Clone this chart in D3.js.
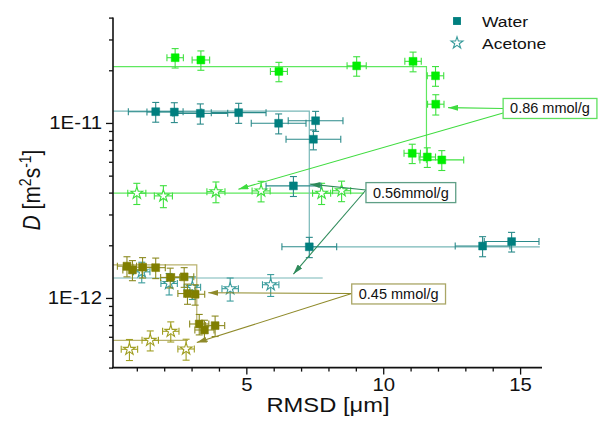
<!DOCTYPE html>
<html><head><meta charset="utf-8">
<script src="https://cdn.jsdelivr.net/npm/d3@7"></script>
<style>
body{margin:0;background:#fff}
svg{display:block}
text{font-family:"Liberation Sans",Arial,Helvetica,sans-serif;fill:#111}
</style>
</head><body>
<svg id="chart" width="598" height="430"></svg>
<script>
// ---------------- DATA ----------------
const xMajorTicks = [5, 10, 15];
const xMinorTicks = [1, 2, 3, 4, 6, 7, 8, 9, 11, 12, 13, 14];
const yMajorTicks = [1e-12, 1e-11];
const yMajorLabels = ["1E-12", "1E-11"];
const yMinorTicks = [4e-13,5e-13,6e-13,7e-13,8e-13,9e-13,2e-12,3e-12,4e-12,5e-12,6e-12,7e-12,8e-12,9e-12,2e-11,3e-11,4e-11];

const legendLabels = ["Water", "Acetone"];

// 0.86 mmol/g - water (squares)
const w86X    = [2.40, 3.34, 6.19, 9.03, 11.09, 11.91, 11.92, 11.06, 11.61, 12.14];
const w86D    = [2.36e-11, 2.29e-11, 1.97e-11, 2.12e-11, 2.25e-11, 1.86e-11, 1.28e-11, 6.71e-12, 6.39e-12, 6.15e-12];
const w86XErr = [0.30, 0.32, 0.31, 0.35, 0.30, 0.30, 0.30, 0.30, 0.30, 0.80];
const w86DErr = [3.0e-12, 2.9e-12, 2.5e-12, 2.7e-12, 2.9e-12, 2.4e-12, 1.7e-12, 8.5e-13, 8.2e-13, 8.0e-13];
// 0.86 mmol/g - acetone (stars)
const a86X    = [1.00, 1.97, 3.89, 5.54, 7.75, 8.48];
const a86D    = [3.97e-12, 3.83e-12, 4.05e-12, 4.09e-12, 3.97e-12, 4.10e-12];
const a86XErr = [0.33, 0.33, 0.33, 0.33, 0.33, 0.33];
const a86DErr = [5.5e-13, 5.5e-13, 5.5e-13, 5.5e-13, 5.5e-13, 5.5e-13];
// 0.86 step profiles
const fit86WX = [0.13, 11.58, 11.58];
const fit86WD = [2.10e-11, 2.10e-11, 5.9e-12];
const fit86AX = [0.13, 9.3];
const fit86AD = [3.97e-12, 3.97e-12];

// 0.56 mmol/g - water
const w56X    = [1.69, 2.37, 3.32, 4.72, 6.18, 7.53, 7.45, 6.72, 7.30, 13.63, 14.69];
const w56D    = [1.16e-11, 1.155e-11, 1.135e-11, 1.145e-11, 9.96e-12, 1.03e-11, 8.07e-12, 4.37e-12, 1.96e-12, 1.98e-12, 2.10e-12];
const w56XErr = [1.0, 1.0, 1.0, 1.0, 1.0, 1.0, 1.0, 1.0, 1.0, 1.0, 1.0];
const w56DErr = [1.5e-12, 1.5e-12, 1.5e-12, 1.5e-12, 1.3e-12, 1.35e-12, 1.05e-12, 5.7e-13, 2.6e-13, 2.6e-13, 2.7e-13];
// 0.56 mmol/g - acetone
const a56X    = [1.18, 2.18, 3.03, 4.41, 5.89];
const a56D    = [1.41e-12, 1.21e-12, 1.15e-12, 1.13e-12, 1.19e-12];
const a56XErr = [0.30, 0.30, 0.30, 0.30, 0.30];
const a56DErr = [1.9e-13, 1.7e-13, 1.7e-13, 1.7e-13, 1.7e-13];
const fit56WX = [0.13, 7.30, 7.30, 15.72];
const fit56WD = [1.17e-11, 1.17e-11, 1.96e-12, 1.96e-12];
const fit56AX = [0.13, 7.79];
const fit56AD = [1.30e-12, 1.30e-12];

// 0.45 mmol/g - water
const w45X    = [0.64, 0.84, 1.21, 1.69, 2.22, 2.73, 2.85, 3.13, 3.28, 3.47, 3.86];
const w45D    = [1.52e-12, 1.445e-12, 1.50e-12, 1.49e-12, 1.31e-12, 1.32e-12, 1.06e-12, 1.05e-12, 7.1e-13, 6.56e-13, 6.95e-13];
const w45XErr = [0.35, 0.35, 0.35, 0.35, 0.35, 0.35, 0.35, 0.35, 0.35, 0.35, 0.35];
const w45DErr = [2.0e-13, 1.9e-13, 2.0e-13, 2.0e-13, 1.7e-13, 1.7e-13, 1.4e-13, 1.4e-13, 9.5e-14, 9e-14, 9.3e-14];
// 0.45 mmol/g - acetone
const a45X    = [0.73, 1.49, 2.24, 2.80];
const a45D    = [5.09e-13, 5.73e-13, 6.45e-13, 5.11e-13];
const a45XErr = [0.30, 0.30, 0.30, 0.30];
const a45DErr = [7e-14, 7.5e-14, 8.5e-14, 7e-14];
const fit45WX = [0.13, 3.19, 3.19];
const fit45WD = [1.545e-12, 1.545e-12, 7.3e-13];
const fit45AX = [0.13, 2.87];
const fit45AD = [5.72e-13, 5.72e-13];

// annotations (label box: left edge x, vertical centre D)
const annLabels = ["0.86 mmol/g", "0.56mmol/g", "0.45 mmol/g"];
const annBoxX   = [14.38, 9.37, 8.85];
const annBoxD   = [1.21e-11, 4.0e-12, 1.054e-12];
const annFromX  = [[14.38, 14.38], [9.37, 9.37], [8.85, 8.85]];
const annFromD  = [[1.21e-11, 1.14e-11], [4.14e-12, 4.14e-12], [1.06e-12, 1.06e-12]];
const annToX    = [[12.37, 4.71], [7.33, 6.72], [3.61, 3.19]];
const annToD    = [[1.223e-11, 4.18e-12], [4.47e-12, 1.37e-12], [1.07e-12, 5.56e-13]];

// ---------------- STYLE ----------------
const SX = 1.13; // horizontal text stretch of the reference
const style = {
  g86: {fill:"#00ee00", bar:"#3fe23f", line:"#5fe85f", star:"#3ee03e", ann:"#2fd62f", box:"#5fe05f", arrow:"#3fdc3f"},
  g56: {fill:"#007f7f", bar:"#2a8a8a", line:"#78b8b8", star:"#3a9c9c", ann:"#1f7f7f", box:"#5f9f86", arrow:"#2e8a5a"},
  g45: {fill:"#807f00", bar:"#8c8a20", line:"#b9b26e", star:"#a09e22", ann:"#8a8620", box:"#aaa666", arrow:"#8f8a2a"}
};

// ---------------- SCALES ----------------
const svg = d3.select("#chart");
const x = d3.scaleLinear().domain([0.13, 15.8]).range([113, 542]);
const y = d3.scaleLog().domain([4e-13, 4e-11]).range([367.6, 17.6]);
const line = d3.line().x(d => x(d[0])).y(d => y(d[1]));

function stretch(sel){
  sel.each(function(){
    const t = d3.select(this);
    const tx = +(t.attr("x") || 0);
    t.attr("x", tx / SX).attr("transform", `scale(${SX},1)`);
  });
}

// ---------------- FIT / STEP LINES ----------------
const fits = [
  [fit86WX, fit86WD, "g86"], [fit86AX, fit86AD, "g86"],
  [fit56WX, fit56WD, "g56"], [fit56AX, fit56AD, "g56"],
  [fit45WX, fit45WD, "g45"], [fit45AX, fit45AD, "g45"]
];
fits.forEach(([xs, ds, k]) => {
  svg.append("path").attr("d", line(xs.map((v, i) => [v, ds[i]])))
    .attr("fill", "none").attr("stroke", style[k].line).attr("stroke-width", 1.2);
});

// ---------------- POINTS ----------------
function series(xs, ds, xe, de, k, kind){
  const data = xs.map((v, i) => ({x: v, d: ds[i], xe: xe[i], de: de[i]}));
  const g = svg.append("g");
  const c = style[k];
  const cap = 3.5;
  data.forEach(p => {
    const px = x(p.x), py = y(p.d);
    const x0 = x(p.x - p.xe), x1 = x(p.x + p.xe);
    const y0 = y(p.d + p.de), y1 = y(Math.max(p.d - p.de, 1e-14));
    const eb = g.append("g").attr("stroke", kind === "sq" ? c.bar : c.star).attr("stroke-width", 1.1).attr("fill", "none");
    eb.append("line").attr("x1", x0).attr("x2", x1).attr("y1", py).attr("y2", py);
    eb.append("line").attr("x1", x0).attr("x2", x0).attr("y1", py - cap).attr("y2", py + cap);
    eb.append("line").attr("x1", x1).attr("x2", x1).attr("y1", py - cap).attr("y2", py + cap);
    eb.append("line").attr("x1", px).attr("x2", px).attr("y1", y0).attr("y2", y1);
    eb.append("line").attr("x1", px - cap).attr("x2", px + cap).attr("y1", y0).attr("y2", y0);
    eb.append("line").attr("x1", px - cap).attr("x2", px + cap).attr("y1", y1).attr("y2", y1);
  });
  const sym = kind === "sq" ? d3.symbol(d3.symbolSquare, 62) : d3.symbol(d3.symbolStar, 44);
  g.selectAll("path.m").data(data).join("path").attr("class", "m")
    .attr("d", sym)
    .attr("transform", p => `translate(${x(p.x)},${y(p.d)})`)
    .attr("fill", kind === "sq" ? c.fill : "#fff")
    .attr("stroke", kind === "sq" ? c.fill : c.star)
    .attr("stroke-width", kind === "sq" ? 0.5 : 1.1);
}
series(w86X, w86D, w86XErr, w86DErr, "g86", "sq");
series(a86X, a86D, a86XErr, a86DErr, "g86", "star");
series(w56X, w56D, w56XErr, w56DErr, "g56", "sq");
series(a56X, a56D, a56XErr, a56DErr, "g56", "star");
series(w45X, w45D, w45XErr, w45DErr, "g45", "sq");
series(a45X, a45D, a45XErr, a45DErr, "g45", "star");

// ---------------- AXES ----------------
const axG = svg.append("g").attr("class", "axes");
const yMajor = axG.append("g").attr("transform", `translate(${x.range()[0]},0)`)
  .call(d3.axisLeft(y).tickValues(yMajorTicks).tickSize(7).tickPadding(4)
    .tickFormat((d, i) => yMajorLabels[i]));
const yMinor = axG.append("g").attr("transform", `translate(${x.range()[0]},0)`)
  .call(d3.axisLeft(y).tickValues(yMinorTicks).tickSize(4).tickFormat(""));
const xMajor = axG.append("g").attr("transform", `translate(0,${y.range()[0]})`)
  .call(d3.axisBottom(x).tickValues(xMajorTicks).tickSize(7).tickPadding(4).tickFormat(d3.format("d")));
const xMinor = axG.append("g").attr("transform", `translate(0,${y.range()[0]})`)
  .call(d3.axisBottom(x).tickValues(xMinorTicks).tickSize(4).tickFormat(""));
[yMinor, xMinor].forEach(a => a.select(".domain").remove());
[yMajor, xMajor].forEach(a => a.select(".domain").remove());
axG.append("line").attr("x1", x.range()[0]).attr("x2", x.range()[0]).attr("y1", y.range()[1]).attr("y2", y.range()[0]).attr("stroke", "#111").attr("stroke-width", 1.6);
axG.append("line").attr("x1", x.range()[0] - 1).attr("x2", x.range()[1]).attr("y1", y.range()[0]).attr("y2", y.range()[0]).attr("stroke", "#111").attr("stroke-width", 1.6);
axG.selectAll(".tick line").attr("stroke", "#111").attr("stroke-width", 1.3);
axG.selectAll(".tick text").attr("font-size", 18).attr("font-family", "Liberation Sans, Arial, sans-serif").attr("fill", "#111");
stretch(yMajor.selectAll(".tick text"));
stretch(xMajor.selectAll(".tick text"));

// axis titles
const xt = svg.append("text").attr("x", 328 / SX).attr("y", 412).attr("text-anchor", "middle")
  .attr("font-size", 21).attr("transform", `scale(${SX},1)`);
xt.append("tspan").text("RMSD [");
xt.append("tspan").text("\u03bc");
xt.append("tspan").text("m]");

const yt = svg.append("text").attr("transform", `translate(40,190) rotate(-90) scale(1,${SX})`)
  .attr("text-anchor", "middle").attr("font-size", 21);
yt.append("tspan").attr("font-style", "italic").text("D");
yt.append("tspan").text(" [m");
yt.append("tspan").attr("font-size", 14).attr("dy", -8).text("2");
yt.append("tspan").attr("dy", 8).text("s");
yt.append("tspan").attr("font-size", 14).attr("dy", -8).text("-1");
yt.append("tspan").attr("dy", 8).text("]");

// ---------------- LEGEND ----------------
const lg = svg.append("g");
lg.append("path").attr("d", d3.symbol(d3.symbolSquare, 62)()).attr("transform", "translate(457,21)").attr("fill", style.g56.fill);
lg.append("path").attr("d", d3.symbol(d3.symbolStar, 44)()).attr("transform", "translate(457,43)").attr("fill", "#fff").attr("stroke", style.g56.star).attr("stroke-width", 1.1);
lg.selectAll("text").data(legendLabels).join("text")
  .attr("x", 482 / SX).attr("y", (d, i) => 27 + i * 22).attr("font-size", 15.5)
  .attr("transform", `scale(${SX},1)`).text(d => d);

// ---------------- ANNOTATIONS ----------------
const defs = svg.append("defs");
["g86", "g56", "g45"].forEach(k => {
  defs.append("marker").attr("id", "ah-" + k).attr("viewBox", "0 0 10 6")
    .attr("refX", 10).attr("refY", 3).attr("markerWidth", 10).attr("markerHeight", 6)
    .attr("markerUnits", "userSpaceOnUse").attr("orient", "auto")
    .append("path").attr("d", "M0,0 L10,3 L0,6 Z").attr("fill", style[k].arrow);
});
const keys = ["g86", "g56", "g45"];
annLabels.forEach((lab, i) => {
  const k = keys[i], c = style[k];
  const g = svg.append("g");
  annToX[i].forEach((tx, j) => {
    g.append("line")
      .attr("x1", x(annFromX[i][j])).attr("y1", y(annFromD[i][j]))
      .attr("x2", x(tx)).attr("y2", y(annToD[i][j]))
      .attr("stroke", c.arrow).attr("stroke-width", 1.1)
      .attr("marker-end", `url(#ah-${k})`);
  });
  const bx = x(annBoxX[i]), by = y(annBoxD[i]);
  const rect = g.append("rect").attr("fill", "#fff").attr("stroke", c.box).attr("stroke-width", 1.3);
  const t = g.append("text").attr("font-size", 14.5).attr("fill", c.ann)
    .attr("text-anchor", "middle").text(lab);
  const w = t.node().getComputedTextLength() + 14;
  t.attr("x", bx + w / 2).attr("y", by + 5);
  rect.attr("x", bx).attr("y", by - 10).attr("width", w).attr("height", 20);
});
</script>
</body></html>
